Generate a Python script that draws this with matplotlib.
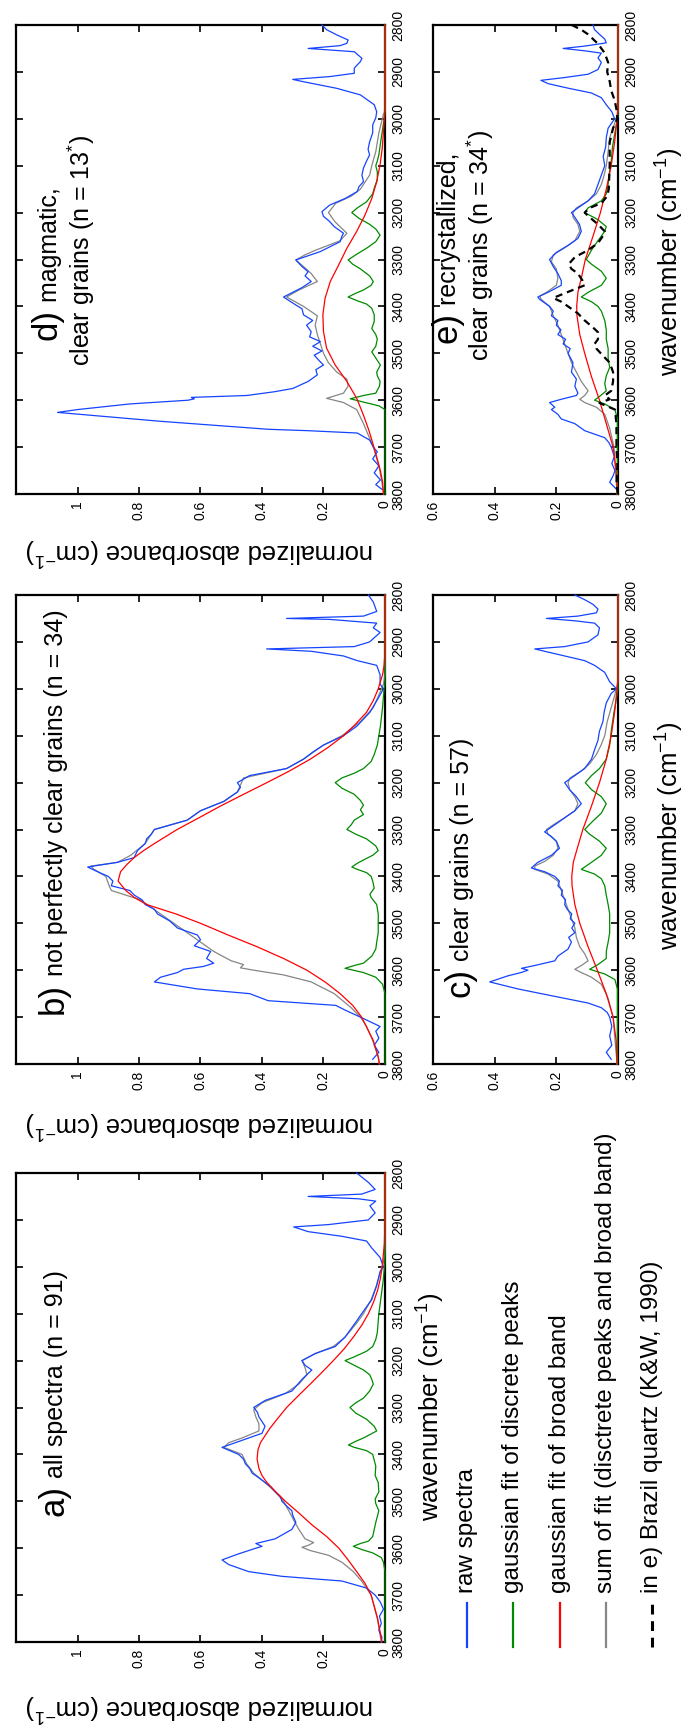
import matplotlib
matplotlib.use("Agg")
import matplotlib.pyplot as plt
from matplotlib.lines import Line2D

plt.rcParams['font.family'] = ['Liberation Sans', 'DejaVu Sans']
plt.rcParams['mathtext.fontset'] = 'custom'
plt.rcParams['mathtext.rm'] = 'Liberation Sans'
plt.rcParams['mathtext.default'] = 'regular'

# ---- data: (wavenumber cm-1, normalized absorbance) ----
wn_ticks = [2800, 2900, 3000, 3100, 3200, 3300, 3400, 3500, 3600, 3700, 3800]
abs_ticks_top = [0, 0.2, 0.4, 0.6, 0.8, 1.0]
abs_ticks_bottom = [0, 0.2, 0.4, 0.6]

# a) all spectra
raw_a = [(3800, 0.012), (3790, 0.01), (3775, 0.02), (3760, 0.012), (3745, 0.018), (3730, 0.005),
         (3715, 0.015), (3700, 0.032), (3685, 0.06), (3670, 0.14), (3660, 0.335), (3650, 0.443),
         (3635, 0.508), (3625, 0.53), (3612, 0.476), (3600, 0.42), (3596, 0.40), (3590, 0.42),
         (3580, 0.357), (3560, 0.303), (3545, 0.29), (3530, 0.30), (3520, 0.303), (3510, 0.32),
         (3500, 0.335), (3490, 0.34), (3480, 0.357), (3470, 0.37), (3460, 0.39), (3450, 0.41),
         (3440, 0.432), (3430, 0.44), (3420, 0.454), (3410, 0.46), (3400, 0.476), (3385, 0.53),
         (3370, 0.465), (3355, 0.40), (3340, 0.39), (3330, 0.40), (3320, 0.41), (3310, 0.415),
         (3300, 0.427), (3285, 0.39), (3265, 0.303), (3240, 0.27), (3220, 0.238), (3210, 0.26),
         (3200, 0.27), (3185, 0.227), (3170, 0.162), (3150, 0.13), (3120, 0.097), (3100, 0.076),
         (3070, 0.043), (3040, 0.027), (3010, 0.016), (3000, 0.005), (2980, 0.016), (2960, 0.043),
         (2945, 0.06), (2935, 0.14), (2925, 0.25), (2915, 0.297), (2910, 0.184), (2900, 0.054),
         (2885, 0.032), (2870, 0.049), (2860, 0.03), (2855, 0.086), (2850, 0.25), (2845, 0.076),
         (2835, 0.032), (2820, 0.054), (2800, 0.092)]
green_a = [(3800, 0), (3650, 0), (3630, 0.005), (3620, 0.012), (3610, 0.04), (3603, 0.075),
           (3596, 0.103), (3590, 0.08), (3585, 0.054), (3575, 0.04), (3560, 0.035), (3545, 0.03),
           (3520, 0.02), (3505, 0.03), (3495, 0.032), (3480, 0.02), (3460, 0.022), (3445, 0.032),
           (3425, 0.03), (3410, 0.036), (3400, 0.04), (3392, 0.06), (3385, 0.1), (3380, 0.119),
           (3372, 0.095), (3365, 0.07), (3350, 0.027), (3340, 0.035), (3325, 0.06), (3312, 0.095),
           (3300, 0.114), (3290, 0.095), (3280, 0.07), (3265, 0.05), (3250, 0.038), (3240, 0.043),
           (3230, 0.05), (3220, 0.07), (3210, 0.1), (3200, 0.13), (3192, 0.1), (3180, 0.06),
           (3170, 0.04), (3155, 0.03), (3140, 0.025), (3100, 0.02), (3060, 0.012), (3030, 0.006),
           (3000, 0.002), (2990, 0), (2800, 0)]
red_a = [(3800, 0.01), (3750, 0.024), (3700, 0.045), (3675, 0.065), (3650, 0.092), (3625, 0.12),
         (3600, 0.15), (3575, 0.19), (3550, 0.238), (3525, 0.28), (3500, 0.324), (3480, 0.355),
         (3460, 0.384), (3445, 0.40), (3430, 0.41), (3410, 0.416), (3390, 0.413), (3375, 0.405),
         (3360, 0.39), (3345, 0.375), (3330, 0.357), (3300, 0.32), (3275, 0.282), (3250, 0.243),
         (3225, 0.205), (3200, 0.168), (3175, 0.133), (3150, 0.103), (3125, 0.076), (3100, 0.054),
         (3075, 0.037), (3050, 0.024), (3025, 0.015), (3000, 0.009), (2950, 0.002), (2900, 0),
         (2800, 0)]
gray_a = [(3800, 0.012), (3750, 0.025), (3700, 0.045), (3670, 0.076), (3650, 0.103), (3630, 0.14),
          (3615, 0.184), (3605, 0.243), (3598, 0.27), (3594, 0.25), (3588, 0.232), (3580, 0.26),
          (3560, 0.28), (3540, 0.297), (3520, 0.313), (3500, 0.33), (3480, 0.357), (3460, 0.39),
          (3440, 0.427), (3420, 0.45), (3400, 0.465), (3385, 0.524), (3375, 0.508), (3365, 0.465),
          (3350, 0.41), (3335, 0.41), (3320, 0.42), (3305, 0.427), (3290, 0.40), (3270, 0.324),
          (3250, 0.28), (3230, 0.254), (3215, 0.26), (3200, 0.27), (3185, 0.227), (3170, 0.168),
          (3150, 0.13), (3120, 0.092), (3100, 0.07), (3070, 0.045), (3040, 0.028), (3010, 0.014),
          (2990, 0.005), (2970, 0), (2800, 0)]

# b) not perfectly clear grains
raw_b = [(3790, 0.04), (3775, 0.02), (3760, 0.035), (3745, 0.02), (3730, 0.03), (3720, 0.016),
         (3700, 0.08), (3685, 0.13), (3675, 0.16), (3665, 0.38), (3650, 0.44), (3640, 0.61),
         (3625, 0.75), (3615, 0.73), (3605, 0.675), (3598, 0.655), (3592, 0.59), (3585, 0.557),
         (3575, 0.58), (3560, 0.567), (3548, 0.62), (3535, 0.60), (3525, 0.61), (3510, 0.675),
         (3495, 0.70), (3480, 0.74), (3470, 0.75), (3460, 0.78), (3450, 0.79), (3440, 0.815),
         (3430, 0.83), (3420, 0.89), (3410, 0.885), (3400, 0.90), (3390, 0.935), (3380, 0.967),
         (3370, 0.87), (3360, 0.816), (3345, 0.805), (3330, 0.78), (3320, 0.775), (3310, 0.76),
         (3300, 0.75), (3280, 0.643), (3260, 0.60), (3240, 0.524), (3220, 0.48), (3210, 0.47),
         (3200, 0.48), (3185, 0.44), (3170, 0.32), (3150, 0.265), (3135, 0.235), (3120, 0.20),
         (3100, 0.135), (3080, 0.092), (3050, 0.049), (3020, 0.022), (3000, 0.005), (2990, 0.016),
         (2970, 0.016), (2950, 0.027), (2940, 0.09), (2930, 0.135), (2920, 0.24), (2915, 0.385),
         (2910, 0.10), (2900, 0.05), (2880, 0.016), (2870, 0.038), (2860, 0.027), (2852, 0.18),
         (2850, 0.32), (2845, 0.07), (2835, 0.027), (2815, 0.038), (2800, 0.054)]
green_b = [(3800, 0), (3650, 0), (3630, 0.008), (3615, 0.03), (3605, 0.07), (3596, 0.13),
           (3590, 0.1), (3585, 0.07), (3570, 0.043), (3555, 0.03), (3540, 0.027), (3520, 0.022),
           (3500, 0.022), (3480, 0.022), (3460, 0.027), (3445, 0.045), (3438, 0.049), (3425, 0.035),
           (3410, 0.04), (3400, 0.045), (3392, 0.06), (3385, 0.09), (3380, 0.108), (3372, 0.09),
           (3365, 0.07), (3355, 0.04), (3345, 0.022), (3335, 0.03), (3320, 0.06), (3310, 0.095),
           (3300, 0.124), (3290, 0.11), (3280, 0.1), (3268, 0.07), (3258, 0.08), (3248, 0.07),
           (3238, 0.08), (3225, 0.1), (3212, 0.14), (3200, 0.162), (3190, 0.14), (3180, 0.1),
           (3170, 0.07), (3155, 0.045), (3140, 0.035), (3120, 0.025), (3080, 0.015), (3040, 0.008),
           (3000, 0.003), (2990, 0), (2800, 0)]
red_b = [(3800, 0.018), (3785, 0.022), (3750, 0.038), (3700, 0.076), (3675, 0.105), (3650, 0.146),
         (3625, 0.195), (3600, 0.254), (3575, 0.33), (3550, 0.416), (3525, 0.51), (3500, 0.60),
         (3480, 0.68), (3460, 0.775), (3445, 0.815), (3430, 0.843), (3410, 0.868), (3390, 0.86),
         (3375, 0.84), (3360, 0.816), (3345, 0.785), (3330, 0.75), (3300, 0.676), (3275, 0.605),
         (3250, 0.535), (3225, 0.46), (3200, 0.384), (3175, 0.31), (3150, 0.243), (3125, 0.185),
         (3100, 0.135), (3075, 0.095), (3050, 0.06), (3025, 0.038), (3000, 0.022), (2970, 0.008),
         (2950, 0.003), (2920, 0), (2800, 0)]
gray_b = [(3800, 0.018), (3785, 0.022), (3750, 0.04), (3720, 0.06), (3700, 0.08), (3680, 0.11),
          (3650, 0.165), (3625, 0.24), (3610, 0.33), (3600, 0.427), (3595, 0.47), (3588, 0.46),
          (3580, 0.50), (3560, 0.557), (3540, 0.60), (3510, 0.665), (3480, 0.73), (3450, 0.795),
          (3430, 0.89), (3420, 0.897), (3400, 0.908), (3385, 0.946), (3378, 0.957), (3370, 0.87),
          (3355, 0.827), (3330, 0.78), (3310, 0.76), (3300, 0.75), (3280, 0.643), (3260, 0.60),
          (3240, 0.524), (3220, 0.48), (3205, 0.47), (3190, 0.46), (3170, 0.32), (3150, 0.265),
          (3120, 0.20), (3100, 0.14), (3070, 0.08), (3040, 0.038), (3010, 0.018), (2990, 0.005),
          (2970, 0), (2800, 0)]

# c) clear grains
raw_c = [(3790, 0.022), (3775, 0.038), (3760, 0.02), (3740, 0.027), (3720, 0.02), (3700, 0.027),
         (3690, 0.035), (3680, 0.054), (3670, 0.097), (3660, 0.173), (3650, 0.249), (3640, 0.324),
         (3625, 0.416), (3612, 0.357), (3605, 0.314), (3600, 0.292), (3596, 0.313), (3590, 0.27),
         (3580, 0.205), (3570, 0.195), (3555, 0.162), (3540, 0.151), (3530, 0.16), (3520, 0.14),
         (3510, 0.15), (3500, 0.14), (3490, 0.155), (3480, 0.15), (3470, 0.165), (3460, 0.173),
         (3450, 0.17), (3440, 0.184), (3430, 0.18), (3420, 0.195), (3410, 0.19), (3400, 0.205),
         (3390, 0.238), (3382, 0.281), (3370, 0.26), (3355, 0.216), (3340, 0.19), (3325, 0.20),
         (3315, 0.216), (3305, 0.238), (3290, 0.205), (3275, 0.173), (3260, 0.14), (3245, 0.119),
         (3230, 0.135), (3215, 0.157), (3200, 0.173), (3185, 0.14), (3170, 0.108), (3150, 0.086),
         (3130, 0.076), (3110, 0.065), (3090, 0.06), (3070, 0.049), (3050, 0.045), (3030, 0.038),
         (3010, 0.022), (3000, 0.005), (2985, 0.027), (2965, 0.043), (2950, 0.076), (2940, 0.108),
         (2930, 0.173), (2920, 0.238), (2915, 0.27), (2910, 0.173), (2900, 0.097), (2885, 0.065),
         (2870, 0.06), (2860, 0.076), (2855, 0.14), (2850, 0.232), (2845, 0.13), (2838, 0.07),
         (2830, 0.065), (2820, 0.081), (2810, 0.108), (2800, 0.14)]
green_c = [(3800, 0.002), (3640, 0.002), (3620, 0.01), (3608, 0.043), (3598, 0.092), (3588, 0.065),
           (3575, 0.038), (3560, 0.038), (3540, 0.032), (3520, 0.027), (3500, 0.027), (3480, 0.027),
           (3460, 0.032), (3440, 0.038), (3420, 0.043), (3405, 0.054), (3395, 0.076), (3385, 0.119),
           (3370, 0.086), (3355, 0.054), (3340, 0.038), (3325, 0.06), (3310, 0.092), (3300, 0.108),
           (3285, 0.086), (3265, 0.054), (3245, 0.038), (3230, 0.054), (3215, 0.086), (3200, 0.106),
           (3185, 0.086), (3170, 0.06), (3150, 0.038), (3120, 0.027), (3090, 0.022), (3050, 0.013),
           (3020, 0.005), (3000, 0), (2800, 0)]
red_c = [(3800, 0.003), (3750, 0.006), (3700, 0.016), (3650, 0.038), (3600, 0.067), (3550, 0.097),
         (3500, 0.124), (3460, 0.14), (3420, 0.149), (3400, 0.15), (3370, 0.145), (3340, 0.132),
         (3300, 0.114), (3250, 0.086), (3200, 0.06), (3150, 0.038), (3100, 0.022), (3050, 0.011),
         (3000, 0.003), (2980, 0), (2800, 0)]
gray_c = [(3800, 0.003), (3700, 0.016), (3660, 0.032), (3630, 0.054), (3615, 0.086), (3605, 0.119),
          (3598, 0.14), (3590, 0.119), (3580, 0.097), (3565, 0.108), (3550, 0.124), (3530, 0.135),
          (3510, 0.14), (3490, 0.151), (3470, 0.162), (3450, 0.173), (3430, 0.184), (3410, 0.195),
          (3395, 0.227), (3385, 0.27), (3378, 0.27), (3368, 0.238), (3355, 0.21), (3340, 0.195),
          (3325, 0.2), (3310, 0.227), (3300, 0.232), (3290, 0.21), (3275, 0.173), (3260, 0.14),
          (3245, 0.13), (3230, 0.14), (3215, 0.157), (3200, 0.162), (3190, 0.155), (3175, 0.119),
          (3160, 0.092), (3140, 0.07), (3120, 0.055), (3100, 0.043), (3070, 0.035), (3040, 0.022),
          (3010, 0.009), (2990, 0.002), (2980, 0), (2800, 0)]

# d) magmatic, clear grains
raw_d = [(3790, 0.01), (3780, 0.03), (3770, 0.015), (3755, 0.035), (3740, 0.02), (3725, 0.04),
         (3710, 0.025), (3700, 0.038), (3685, 0.05), (3670, 0.09), (3665, 0.25), (3662, 0.38),
         (3645, 0.73), (3626, 1.065), (3620, 1.0), (3608, 0.83), (3600, 0.64), (3597, 0.62),
         (3594, 0.63), (3590, 0.45), (3582, 0.36), (3575, 0.30), (3560, 0.25), (3546, 0.22),
         (3535, 0.225), (3525, 0.20), (3515, 0.215), (3504, 0.23), (3495, 0.205), (3485, 0.235),
         (3475, 0.21), (3465, 0.245), (3454, 0.24), (3440, 0.255), (3430, 0.235), (3418, 0.265),
         (3405, 0.27), (3397, 0.29), (3380, 0.33), (3370, 0.30), (3360, 0.27), (3347, 0.24),
         (3335, 0.26), (3326, 0.25), (3315, 0.27), (3301, 0.29), (3292, 0.25), (3283, 0.21),
         (3262, 0.146), (3250, 0.14), (3244, 0.135), (3230, 0.165), (3219, 0.18), (3208, 0.2),
         (3198, 0.205), (3184, 0.18), (3170, 0.13), (3155, 0.09), (3145, 0.085), (3134, 0.07),
         (3120, 0.075), (3105, 0.07), (3090, 0.06), (3077, 0.05), (3065, 0.055), (3049, 0.05),
         (3030, 0.04), (3013, 0.04), (2998, 0.03), (2985, 0.027), (2970, 0.035), (2963, 0.05),
         (2949, 0.08), (2935, 0.157), (2921, 0.265), (2916, 0.30), (2910, 0.18), (2903, 0.10),
         (2892, 0.10), (2878, 0.08), (2871, 0.075), (2857, 0.10), (2850, 0.25), (2844, 0.146),
         (2839, 0.124), (2832, 0.12), (2821, 0.157), (2810, 0.19), (2800, 0.205)]
green_d = [(3800, 0), (3620, 0), (3612, 0.02), (3604, 0.07), (3597, 0.113), (3590, 0.07),
           (3585, 0.03), (3570, 0.018), (3560, 0.016), (3548, 0.025), (3540, 0.027), (3525, 0.015),
           (3510, 0.03), (3497, 0.043), (3485, 0.03), (3470, 0.025), (3460, 0.03), (3447, 0.043),
           (3432, 0.035), (3418, 0.035), (3404, 0.043), (3395, 0.06), (3388, 0.09), (3380, 0.12),
           (3372, 0.095), (3365, 0.07), (3355, 0.045), (3347, 0.038), (3335, 0.05), (3320, 0.08),
           (3310, 0.105), (3301, 0.12), (3290, 0.095), (3276, 0.06), (3262, 0.03), (3248, 0.016),
           (3235, 0.03), (3225, 0.05), (3212, 0.085), (3200, 0.108), (3190, 0.09), (3177, 0.06),
           (3160, 0.04), (3148, 0.035), (3130, 0.025), (3113, 0.025), (3100, 0.03), (3090, 0.025),
           (3077, 0.02), (3040, 0.012), (3010, 0.005), (2992, 0), (2800, 0)]
red_d = [(3800, 0.005), (3774, 0.008), (3750, 0.015), (3700, 0.036), (3665, 0.052), (3632, 0.07),
         (3596, 0.092), (3560, 0.124), (3525, 0.162), (3489, 0.19), (3454, 0.20), (3418, 0.202),
         (3383, 0.195), (3347, 0.178), (3312, 0.151), (3276, 0.124), (3240, 0.092), (3205, 0.065),
         (3170, 0.043), (3134, 0.027), (3098, 0.016), (3063, 0.009), (3020, 0.004), (2992, 0.002),
         (2960, 0), (2800, 0)]
gray_d = [(3800, 0.005), (3775, 0.01), (3740, 0.02), (3700, 0.038), (3650, 0.07), (3620, 0.092),
          (3605, 0.135), (3596, 0.19), (3585, 0.135), (3570, 0.12), (3555, 0.124), (3540, 0.157),
          (3520, 0.184), (3500, 0.20), (3480, 0.21), (3460, 0.22), (3440, 0.227), (3420, 0.22),
          (3400, 0.265), (3380, 0.32), (3365, 0.28), (3347, 0.22), (3330, 0.24), (3315, 0.265),
          (3301, 0.29), (3290, 0.26), (3280, 0.225), (3260, 0.146), (3244, 0.124), (3220, 0.162),
          (3200, 0.184), (3180, 0.16), (3165, 0.11), (3150, 0.08), (3120, 0.05), (3100, 0.043),
          (3070, 0.03), (3030, 0.02), (2990, 0.005), (2985, 0), (2800, 0)]

# e) recrystallized, clear grains
raw_e = [(3790, 0.005), (3775, 0.027), (3760, 0.015), (3750, 0.01), (3735, 0.02), (3720, 0.012),
         (3700, 0.022), (3690, 0.03), (3680, 0.043), (3665, 0.108), (3650, 0.14), (3640, 0.184),
         (3630, 0.195), (3620, 0.216), (3615, 0.205), (3605, 0.222), (3598, 0.184), (3590, 0.135),
         (3585, 0.13), (3570, 0.14), (3555, 0.135), (3540, 0.151), (3520, 0.146), (3500, 0.162),
         (3490, 0.155), (3480, 0.178), (3470, 0.17), (3460, 0.195), (3450, 0.185), (3440, 0.20),
         (3430, 0.195), (3420, 0.216), (3410, 0.21), (3400, 0.222), (3385, 0.254), (3380, 0.26),
         (3370, 0.227), (3355, 0.184), (3345, 0.184), (3330, 0.195), (3315, 0.21), (3300, 0.222),
         (3285, 0.2), (3270, 0.162), (3255, 0.13), (3240, 0.119), (3225, 0.125), (3210, 0.14),
         (3200, 0.151), (3190, 0.13), (3175, 0.097), (3160, 0.076), (3140, 0.065), (3120, 0.054),
         (3100, 0.043), (3080, 0.048), (3060, 0.04), (3040, 0.038), (3020, 0.032), (3000, 0.011),
         (2985, 0.02), (2970, 0.038), (2955, 0.054), (2945, 0.086), (2935, 0.16), (2925, 0.227),
         (2918, 0.25), (2912, 0.173), (2905, 0.097), (2895, 0.065), (2880, 0.054), (2870, 0.065),
         (2860, 0.054), (2855, 0.108), (2850, 0.178), (2845, 0.108), (2838, 0.038), (2830, 0.043),
         (2820, 0.06), (2810, 0.076), (2800, 0.081)]
green_e = [(3800, 0.002), (3640, 0.002), (3620, 0.01), (3608, 0.043), (3600, 0.076), (3592, 0.06),
           (3580, 0.038), (3565, 0.043), (3548, 0.038), (3530, 0.027), (3510, 0.032), (3490, 0.032),
           (3470, 0.038), (3450, 0.038), (3430, 0.043), (3410, 0.054), (3400, 0.065), (3390, 0.086),
           (3380, 0.119), (3370, 0.097), (3355, 0.054), (3340, 0.038), (3325, 0.054), (3310, 0.086),
           (3300, 0.103), (3280, 0.086), (3260, 0.065), (3240, 0.043), (3230, 0.038), (3215, 0.065),
           (3200, 0.108), (3190, 0.097), (3175, 0.054), (3160, 0.038), (3140, 0.032), (3110, 0.027),
           (3090, 0.022), (3060, 0.018), (3030, 0.01), (3000, 0.002), (2990, 0), (2800, 0)]
red_e = [(3800, 0.002), (3750, 0.006), (3700, 0.016), (3650, 0.038), (3600, 0.06), (3550, 0.086),
         (3500, 0.108), (3460, 0.124), (3420, 0.133), (3400, 0.134), (3370, 0.13), (3340, 0.119),
         (3300, 0.106), (3250, 0.081), (3200, 0.057), (3150, 0.038), (3100, 0.022), (3050, 0.011),
         (3000, 0.003), (2980, 0), (2800, 0)]
gray_e = [(3800, 0.003), (3700, 0.013), (3660, 0.027), (3630, 0.043), (3615, 0.07), (3605, 0.108),
          (3598, 0.124), (3590, 0.108), (3580, 0.097), (3560, 0.119), (3540, 0.135), (3520, 0.151),
          (3500, 0.162), (3480, 0.173), (3460, 0.184), (3440, 0.195), (3420, 0.21), (3400, 0.222),
          (3385, 0.249), (3378, 0.254), (3370, 0.232), (3355, 0.20), (3340, 0.195), (3320, 0.2),
          (3305, 0.216), (3290, 0.21), (3275, 0.173), (3260, 0.14), (3240, 0.124), (3225, 0.13),
          (3210, 0.146), (3200, 0.146), (3190, 0.135), (3175, 0.097), (3160, 0.07), (3140, 0.054),
          (3120, 0.045), (3100, 0.038), (3070, 0.032), (3040, 0.027), (3010, 0.011), (2990, 0.002),
          (2980, 0), (2800, 0)]
brazil_e = [(3800, 0), (3780, 0.005), (3740, 0.002), (3700, 0.005), (3650, 0.005), (3620, 0.01),
            (3612, 0.038), (3606, 0.06), (3598, 0.027), (3590, 0.043), (3580, 0.022), (3560, 0.016),
            (3540, 0.016), (3520, 0.027), (3505, 0.049), (3490, 0.07), (3480, 0.076), (3470, 0.065),
            (3455, 0.065), (3445, 0.081), (3430, 0.108), (3415, 0.13), (3400, 0.162), (3390, 0.184),
            (3382, 0.21), (3372, 0.173), (3362, 0.135), (3355, 0.108), (3345, 0.115), (3330, 0.13),
            (3320, 0.151), (3310, 0.16), (3295, 0.14), (3280, 0.097), (3265, 0.065), (3250, 0.049),
            (3240, 0.043), (3225, 0.065), (3210, 0.092), (3200, 0.108), (3190, 0.092), (3180, 0.054),
            (3165, 0.035), (3150, 0.03), (3100, 0.027), (3050, 0.027), (3020, 0.016), (3000, 0.002),
            (2980, 0.005), (2960, 0.011), (2940, 0.022), (2920, 0.027), (2900, 0.035), (2880, 0.032),
            (2860, 0.043), (2840, 0.065), (2820, 0.097), (2810, 0.119), (2800, 0.15)]

legend_labels = ['raw spectra', 'gaussian fit of discrete peaks', 'gaussian fit of broad band',
                 'sum of fit (disctrete peaks and broad band)', 'in e) Brazil quartz (K&W, 1990)']

# ---- layout (pixels of the 686 x 1725 output) ----
W, H = 686, 1725
BLUE, GREEN, RED, GRAY = '#1544ff', '#008a00', '#ff0000', '#868686'
ABS_LABEL = 'normalized absorbance (cm$^{-1}$)'
WN_LABEL = 'wavenumber (cm$^{-1}$)'
TITLE_SIZE, LETTER_SIZE = 18, 25

fig = plt.figure(figsize=(W / 100, H / 100), dpi=100)


def box(x0, y0, x1, y1):
    return [x0 / W, 1 - y1 / H, (x1 - x0) / W, (y1 - y0) / H]


def tick_text(t):
    return '0' if t == 0 else ('1' if t == 1 else f'{t:.1f}')


def draw_panel(rect, xmax, xticks, raw, green, red, gray, brazil=None):
    ax = fig.add_axes(rect)
    for pts, color in [(gray, GRAY), (raw, BLUE), (green, GREEN), (red, RED)]:
        w, v = zip(*pts)
        ax.plot(v, w, color=color, lw=0.9, zorder=3, clip_on=False)
    if brazil is not None:
        w, v = zip(*brazil)
        ax.plot(v, w, color='black', lw=1.6, ls=(0, (3.2, 2.2)), zorder=4)
    ax.set_xlim(xmax, 0)
    ax.set_ylim(3800, 2800)
    ax.set_xticks(xticks)
    ax.set_xticklabels([tick_text(t) for t in xticks])
    ax.set_yticks(wn_ticks)
    ax.set_yticklabels([str(t) for t in wn_ticks])
    ax.tick_params(direction='in', length=5, width=1.2, top=True, right=True,
                   labelsize=10, labelrotation=90, pad=4.5)
    ax.tick_params(axis='y', labelleft=False, labelright=True)
    for lbl in ax.get_yticklabels():
        lbl.set_va('center')
    for s in ax.spines.values():
        s.set_linewidth(1.6)
    return ax


def title(ax, xpos, split, letter, text):
    # text is drawn rotated: it reads upward, i.e. from high to low wavenumber
    ax.text(xpos, split, letter, rotation=90, rotation_mode='anchor', ha='right',
            va='baseline', fontsize=LETTER_SIZE)
    ax.text(xpos, split, ' ' + text, rotation=90, rotation_mode='anchor', ha='left',
            va='baseline', fontsize=TITLE_SIZE)


def second_line(ax, xpos, center, text):
    ax.text(xpos, center, text, rotation=90, rotation_mode='anchor', ha='center',
            va='baseline', fontsize=TITLE_SIZE)


ax_d = draw_panel(box(16, 25, 385, 494), 1.2, abs_ticks_top, raw_d, green_d, red_d, gray_d)
ax_b = draw_panel(box(16, 595, 385, 1064), 1.2, abs_ticks_top, raw_b, green_b, red_b, gray_b)
ax_a = draw_panel(box(16, 1173, 385, 1642), 1.2, abs_ticks_top, raw_a, green_a, red_a, gray_a)
ax_e = draw_panel(box(433, 25, 618, 494), 0.6, abs_ticks_bottom, raw_e, green_e, red_e, gray_e,
                  brazil=brazil_e)
ax_c = draw_panel(box(433, 595, 618, 1064), 0.6, abs_ticks_bottom, raw_c, green_c, red_c, gray_c)

title(ax_a, 1.047, 3465, 'a)', 'all spectra (n = 91)')
title(ax_b, 1.047, 3627, 'b)', 'not perfectly clear grains (n = 34)')
title(ax_c, 0.482, 3595, 'c)', 'clear grains (n = 57)')
title(ax_d, 1.068, 3405, 'd)', 'magmatic,')
second_line(ax_d, 0.958, 3280, 'clear grains (n = 13$^{*}$)')
title(ax_e, 0.525, 3412, 'e)', 'recrystallized,')
second_line(ax_e, 0.418, 3269, 'clear grains (n = 34$^{*}$)')

# axis labels (the whole chart is laid out turned by 90 degrees)
for yc in (551, 1124, 1707):
    fig.text(200 / W, 1 - yc / H, ABS_LABEL, rotation=180, ha='center', va='center', fontsize=18.5)
for xc, yc in ((670, 262), (670, 836), (431, 1407)):
    fig.text(xc / W, 1 - yc / H, WN_LABEL, rotation=90, ha='center', va='center', fontsize=18.5)

# legend
legend_x = [467, 513, 560, 606, 652]
legend_styles = [dict(color=BLUE, lw=1.6), dict(color=GREEN, lw=1.6), dict(color=RED, lw=1.6),
                 dict(color=GRAY, lw=1.6), dict(color='black', lw=2.2, ls=(0, (3.2, 2.2)))]
for x, label, style in zip(legend_x, legend_labels, legend_styles):
    fig.add_artist(Line2D([x / W, x / W], [1 - 1647 / H, 1 - 1603 / H],
                          transform=fig.transFigure, **style))
    fig.text(x / W, 1 - 1593 / H, label, rotation=90, ha='center', va='bottom', fontsize=17.5)

fig.savefig('out.png', dpi=100)
